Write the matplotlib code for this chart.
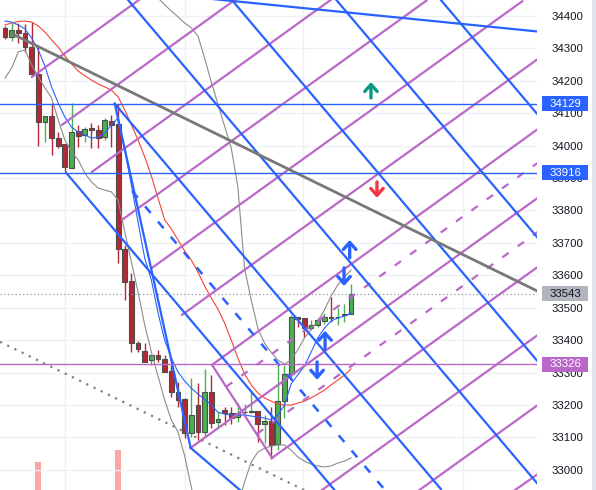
import numpy as np
import matplotlib.pyplot as plt
from matplotlib.patches import Rectangle
from matplotlib.transforms import blended_transform_factory

plt.rcParams['font.family'] = ['Liberation Sans', 'DejaVu Sans']

BLUE = '#2962ff'
PURPLE = '#ba68c8'
RED = '#b22833'
GREEN = '#4caf50'

# candles (price)
opens = [34363, 34335, 34357, 34348, 34304, 34221, 34073, 34092, 34024, 34005,
         33931, 34045, 34033, 34055, 34048, 34027, 34076, 34067, 33681, 33583,
         33392, 33367, 33339, 33355, 33342, 33305, 33240, 33219, 33114, 33201,
         33117, 33240, 33148, 33185, 33176, 33164, 33178, 33179, 33182, 33142,
         33151, 33080, 33213, 33296, 33472, 33469, 33438, 33447, 33460, 33472,
         33471, 33478, 33481]
highs = [34369, 34378, 34378, 34375, 34381, 34311, 34092, 34132, 34042, 34005,
         34132, 34064, 34058, 34070, 34064, 34085, 34095, 34129, 33694, 33607,
         33398, 33392, 33355, 33370, 33355, 33324, 33271, 33222, 33284, 33268,
         33311, 33293, 33179, 33194, 33194, 33207, 33204, 33247, 33182, 33170,
         33194, 33324, 33324, 33478, 33472, 33469, 33463, 33469, 33484, 33533,
         33500, 33512, 33574]
lows = [34329, 34323, 34317, 34289, 34218, 33999, 34011, 33971, 33993, 33919,
        33931, 33996, 34011, 33993, 33993, 34018, 33996, 33638, 33524, 33364,
        33364, 33333, 33324, 33333, 33302, 33225, 33194, 33099, 33102, 33093,
        33102, 33130, 33133, 33139, 33142, 33148, 33170, 33176, 33086, 33083,
        33034, 33062, 33160, 33278, 33441, 33410, 33432, 33441, 33450, 33456,
        33447, 33456, 33481]
closes = [34335, 34357, 34348, 34304, 34221, 34073, 34092, 34024, 33999, 33934,
          34042, 34030, 34052, 34048, 34024, 34079, 34064, 33681, 33580, 33392,
          33373, 33333, 33355, 33342, 33302, 33240, 33216, 33114, 33170, 33117,
          33240, 33145, 33157, 33176, 33160, 33176, 33180, 33180, 33142, 33151,
          33077, 33213, 33296, 33472, 33466, 33438, 33447, 33463, 33472, 33469,
          33473, 33479, 33543]

ma_fast = [34384, 34381, 34372, 34360, 34332, 34295, 34245, 34181, 34131, 34088,
           34057, 34042, 34033, 34023, 34026, 34039, 34064, 34085, 33986, 33878,
           33764, 33653, 33585, 33484, 33400, 33345, 33302, 33274, 33252, 33234,
           33218, 33200, 33178, 33172, 33169, 33169, 33169, 33166, 33163, 33160,
           33154, 33169, 33200, 33265, 33293, 33320, 33363, 33407, 33437, 33459,
           33468, 33474, 33484]
ma_slow = [34372, 34378, 34383, 34384, 34381, 34369, 34350, 34326, 34304, 34276,
           34252, 34230, 34215, 34202, 34190, 34181, 34171, 34150, 34110, 34064,
           34017, 33965, 33906, 33838, 33771, 33743, 33709, 33675, 33647, 33610,
           33567, 33530, 33496, 33453, 33400, 33345, 33296, 33262, 33237, 33222,
           33212, 33203, 33200, 33200, 33206, 33212, 33222, 33234, 33246, 33262,
           33277, 33292, 33311]
bb_upper = [np.nan] * 22 + [
           34474, 34455, 34434, 34415, 34397, 34378, 34363, 34338, 34270, 34196,
           34128, 34060, 33993, 33872, 33622, 33524, 33437, 33391, 33363, 33339,
           33326, 33339, 33370, 33407, 33434, 33459, 33493, 33536, 33570, 33595,
           33616]
bb_lower = [34208, 34239, 34289, 34295, 34249, 34212, 34178, 34147, 34079, 34017,
            33980, 33956, 33915, 33888, 33869, 33863, 33857, 33832, 33734, 33641,
            33548, 33447, 33363, 33289, 33215, 33154, 33117, 33043, 32947, 32845,
            32768, 32722, 32722, 32753, 32814, 32892, 32963, 33024, 33055, 33067,
            33073, 33077, 33077, 33061, 33040, 33027, 33018, 33012, 33009, 33012,
            33021, 33027, 33037]

vol_idx = [5, 17]
vol_val = [28, 40]

# drawings: (bar0, price0, bar1, price1)
blue_lines = [
    (65.5, 34449, 80.0, 34097),
    (49.8, 34449, 80.0, 33717),
    (34.1, 34449, 80.0, 33336),
    (18.5, 34449, 80.0, 32958),
    (16.5, 34129, 65.5, 32941),
    (9.2, 33916, 49.6, 32936),
    (16.5, 34129, 27.9, 33068),
    (27.9, 33068, 35.3, 32938),
    (27.8, 34459, 80.0, 34352),
]
blue_dashed = [(19.1, 33860, 57.1, 32938)]
purple_lines = [
    (4.06, 34212, 20.12, 34449),
    (8.57, 34064, 34.52, 34449),
    (13.07, 33919, 48.93, 34449),
    (17.58, 33771, 63.33, 34447),
    (22.09, 33623, 77.73, 34445),
    (26.6, 33478, 80.0, 34266),
    (31.11, 33324, 80.0, 34050),
    (27.9, 33068, 80.0, 33838),
    (40.13, 33037, 80.0, 33625),
    (47.64, 32938, 80.0, 33415),
    (62.28, 32938, 80.0, 33199),
    (76.65, 32938, 80.0, 32986),
    (31.11, 33324, 40.13, 33037),
]
purple_dashed = [(33.21, 33256, 80.0, 33946), (37.87, 33111, 80.0, 33733)]
trend_line = (1.05, 34345, 79.95, 33552)
trend_dotted = (-0.75, 33395, 44.93, 32938)

h_levels = [34129, 33916, 33326]
h_colors = [BLUE, BLUE, PURPLE]
last_price = 33543

arrow_x = [51.8, 50.95, 48.1, 46.9, 55.0, 55.9]
arrow_from = [33654, 33623, 33373, 33333, 34147, 33888]
arrow_to = [33709, 33567, 33429, 33278, 34196, 33839]
arrow_col = [BLUE, BLUE, BLUE, BLUE, '#089981', '#f23645']

tag_prices = [34129, 33916, 33543, 33326]
tag_fill = [BLUE, BLUE, '#b2b5be', PURPLE]
tag_text = ['white', 'white', '#131722', 'white']

fig = plt.figure(figsize=(5.96, 4.90), dpi=100)
fig.patch.set_facecolor('white')
ax = fig.add_axes([0, 0, 537 / 596, 1])
vax = ax.twinx()
ax.set_zorder(2)
vax.set_zorder(1)
ax.patch.set_visible(False)

vax.bar(vol_idx, vol_val, width=0.9, color='#f7a7a6')
vax.set_ylim(0, 490)
vax.axis('off')

idx = np.arange(len(opens))
o = np.array(opens)
c = np.array(closes)
up = c >= o
ax.vlines(idx, lows, highs, colors=np.where(up, GREEN, RED), lw=1, zorder=3)
ax.bar(idx, np.maximum(np.abs(c - o), 1.5), bottom=np.minimum(o, c), width=0.72,
       color=np.where(up, GREEN, RED), edgecolor='#4d4d4d', linewidth=0.8, zorder=4)

ax.plot(idx, bb_upper, color='#8c8c8c', lw=0.8, zorder=5)
ax.plot(idx, bb_lower, color='#8c8c8c', lw=0.8, zorder=5)
ax.plot(idx, ma_slow, color='#f44336', lw=0.8, zorder=5)
ax.plot(idx, ma_fast, color=BLUE, lw=0.8, zorder=5)

for x0, y0, x1, y1 in purple_lines:
    ax.plot([x0, x1], [y0, y1], color=PURPLE, lw=1.6, zorder=6)
for x0, y0, x1, y1 in purple_dashed:
    ax.plot([x0, x1], [y0, y1], color=PURPLE, lw=1.6, ls=(0, (3.5, 5)), zorder=6)
for x0, y0, x1, y1 in blue_lines:
    ax.plot([x0, x1], [y0, y1], color=BLUE, lw=1.6, zorder=7)
for x0, y0, x1, y1 in blue_dashed:
    ax.plot([x0, x1], [y0, y1], color=BLUE, lw=1.8, ls=(0, (3.5, 4.5)), zorder=7)

ax.plot(trend_line[::2], trend_line[1::2], color='#787878', lw=2, zorder=7)
ax.plot(trend_dotted[::2], trend_dotted[1::2], color='#808080', lw=1.6,
        ls=(0, (1, 2.6)), zorder=7)

for lvl, col in zip(h_levels, h_colors):
    ax.axhline(lvl, color=col, lw=1, zorder=7)
ax.axhline(last_price, color='#9598a1', lw=0.9, ls=(0, (1, 2)), zorder=7)

for x, y0, y1, col in zip(arrow_x, arrow_from, arrow_to, arrow_col):
    ax.annotate('', xy=(x, y1), xytext=(x, y0),
                arrowprops=dict(arrowstyle='->,head_length=0.5,head_width=0.45',
                                color=col, lw=2.4, shrinkA=0, shrinkB=0),
                zorder=9)

ax.set_xlim(-0.75, 79.95)
ax.set_ylim(32938, 34449)
ax.set_yticks(np.arange(33000, 34401, 100))
ax.set_xticks([9, 27, 44.8, 68.8])
ax.yaxis.tick_right()
ax.tick_params(axis='y', length=0, pad=10.8, labelsize=8.2, labelcolor='#131722')
ax.tick_params(axis='x', length=0, labelbottom=False)
ax.grid(color='#eef0f5', lw=1)
ax.set_axisbelow(True)
for s in ax.spines.values():
    s.set_visible(False)

tr = blended_transform_factory(ax.transAxes, ax.transData)
for p, fc, tc in zip(tag_prices, tag_fill, tag_text):
    ax.add_patch(Rectangle((1.0093, p - 23), 0.0857, 46, transform=tr, fc=fc,
                           ec='none', clip_on=False, zorder=10))
    ax.text(1.0521, p, str(p), transform=tr, ha='center', va='center',
            color=tc, fontsize=8.2, zorder=11, clip_on=False)

fig.patches.append(Rectangle((592 / 596, 0), 4 / 596, 1, transform=fig.transFigure,
                             fc='#e0e3eb', ec='none'))

fig.savefig('out.png', dpi=100)
